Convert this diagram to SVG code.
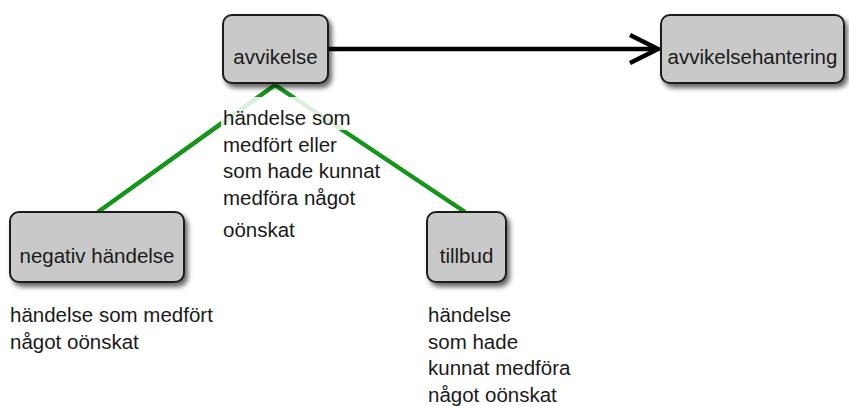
<svg xmlns="http://www.w3.org/2000/svg" width="849" height="406" viewBox="0 0 849 406">
<style>
.box{fill:#c9c9c9;stroke:#1e1e1e;stroke-width:2;filter:url(#sh)}
.t{font-family:"Liberation Sans",Arial,sans-serif;font-size:20.5px;fill:#1a1a1a}
.c{text-anchor:middle}
.g{stroke:#15951a;stroke-width:4.5;fill:none}
.k{stroke:#000;stroke-width:4.5;fill:none}
</style>
<defs>
<filter id="sh" x="-20%" y="-20%" width="150%" height="160%">
<feGaussianBlur in="SourceAlpha" stdDeviation="2.5"/>
<feOffset dx="3" dy="4" result="b"/>
<feComponentTransfer><feFuncA type="linear" slope="0.6"/></feComponentTransfer>
<feMerge><feMergeNode/><feMergeNode in="SourceGraphic"/></feMerge>
</filter>
</defs>
<rect width="849" height="406" fill="#fff"/>
<g id="connectors">
<line class="g" x1="275" y1="85" x2="98" y2="212"/>
<line class="g" x1="275" y1="85" x2="465" y2="212"/>
<line class="k" x1="328" y1="49" x2="657" y2="49"/>
<polyline class="k" points="630,35 658,49 630,63"/>
</g>
<rect x="221" y="97" width="126" height="33" fill="#fff" fill-opacity="0.85"/>
<g id="avvikelse">
<rect class="box" x="223" y="15" width="105" height="68" rx="9"/>
<text class="t c" x="275.5" y="64">avvikelse</text>
</g>
<g id="avvikelsehantering">
<rect class="box" x="661" y="15" width="183" height="68" rx="9"/>
<text class="t c" x="752.5" y="64">avvikelsehantering</text>
</g>
<g id="negativ">
<rect class="box" x="10" y="212" width="174" height="70" rx="9"/>
<text class="t c" x="97" y="263">negativ händelse</text>
</g>
<g id="tillbud">
<rect class="box" x="427" y="212" width="79" height="70" rx="9"/>
<text class="t c" x="466.5" y="263">tillbud</text>
</g>
<g id="labels" class="t">
<text x="223" y="125">händelse som</text>
<text x="223" y="152">medfört eller</text>
<text x="223" y="178">som hade kunnat</text>
<text x="223" y="205">medföra något</text>
<text x="223" y="237">oönskat</text>
<text x="10" y="322">händelse som medfört</text>
<text x="10" y="349">något oönskat</text>
<text x="428" y="322">händelse</text>
<text x="428" y="348.5">som hade</text>
<text x="428" y="375">kunnat medföra</text>
<text x="428" y="401.5">något oönskat</text>
</g>
</svg>
